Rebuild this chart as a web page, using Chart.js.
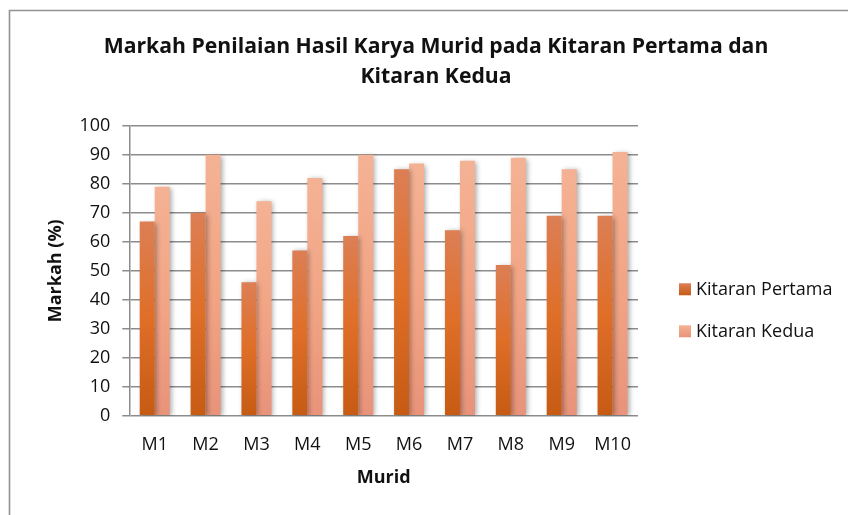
<!DOCTYPE html>
<html>
<head>
<meta charset="utf-8">
<script src="https://cdn.jsdelivr.net/npm/chart.js@4/dist/chart.umd.min.js"></script>
<style>
  html, body { margin: 0; padding: 0; background: #ffffff; }
  #wrap { width: 848px; height: 515px; position: relative; }
</style>
</head>
<body>
<div id="wrap"><canvas id="chart" width="848" height="515"></canvas></div>
<script>
// Students and their scores for the two rounds
const categories = ['M1', 'M2', 'M3', 'M4', 'M5', 'M6', 'M7', 'M8', 'M9', 'M10'];
const kitaranPertama = [67, 70, 46, 57, 62, 85, 64, 52, 69, 69];
const kitaranKedua = [79, 90, 74, 82, 90, 87, 88, 89, 85, 91];
const seriesNames = ['Kitaran Pertama', 'Kitaran Kedua'];

const FONT = '"Open Sans", "Noto Sans", sans-serif';

// Colour stops (top, middle, bottom) for each series' bar gradient
const pertamaStops = ['#DC7F55', '#DF6E27', '#C65B14'];
const keduaStops = ['#F4B294', '#F2A585', '#E8937A'];
const seriesStops = [pertamaStops, keduaStops];

// Vertical gradient running from the bar's top to the zero line
function barGradient(stops) {
  return (ctx) => {
    const chart = ctx.chart;
    const y = chart.scales && chart.scales.y;
    if (!y || ctx.type !== 'data') return stops[1];
    const top = y.getPixelForValue(ctx.raw);
    const bottom = y.getPixelForValue(0);
    if (!isFinite(top) || !isFinite(bottom) || top === bottom) return stops[1];
    const g = chart.ctx.createLinearGradient(0, top, 0, bottom);
    g.addColorStop(0, stops[0]);
    g.addColorStop(0.5, stops[1]);
    g.addColorStop(1, stops[2]);
    return g;
  };
}

// Thin frame along the top and left edges
const framePlugin = {
  id: 'frame',
  beforeDraw(chart) {
    const c = chart.ctx;
    c.save();
    c.strokeStyle = '#939393';
    c.lineWidth = 1.6;
    c.beginPath();
    c.moveTo(9.5, chart.height);
    c.lineTo(9.5, 10.5);
    c.lineTo(chart.width, 10.5);
    c.stroke();
    c.restore();
  }
};

// Soft drop shadow behind the bars
const barShadowPlugin = {
  id: 'barShadow',
  beforeDatasetsDraw(chart) {
    const c = chart.ctx;
    c.save();
    c.shadowColor = 'rgba(0,0,0,0.35)';
    c.shadowBlur = 5;
    c.shadowOffsetX = 2;
    c.shadowOffsetY = 1;
  },
  afterDatasetsDraw(chart) {
    chart.ctx.restore();
  }
};

// Legend column on the right, registered as a layout box so it takes its own space
const sideLegendPlugin = {
  id: 'sideLegend',
  beforeInit(chart) {
    const box = {
      position: 'right',
      weight: 0,
      fullSize: false,
      options: {},
      left: 0, top: 0, right: 0, bottom: 0, width: 0, height: 0,
      isHorizontal() { return false; },
      update(maxWidth, maxHeight) {
        this.width = 210;
        this.height = maxHeight;
      },
      draw() {
        const c = chart.ctx;
        const x = this.left + 41;
        const mid = (this.top + this.bottom) / 2;
        const rows = [mid + 18.5, mid + 60.5];
        c.save();
        c.font = '18px ' + FONT;
        c.textBaseline = 'middle';
        c.textAlign = 'left';
        chart.data.datasets.forEach((ds, i) => {
          const cy = rows[i];
          const stops = seriesStops[i];
          const g = c.createLinearGradient(0, cy - 6, 0, cy + 6);
          g.addColorStop(0, stops[0]);
          g.addColorStop(1, stops[2]);
          c.fillStyle = g;
          c.fillRect(x, cy - 6, 12, 12);
          c.fillStyle = '#111111';
          c.fillText(ds.label, x + 17, cy + 1);
        });
        c.restore();
      }
    };
    Chart.layouts.addBox(chart, box);
  }
};

new Chart(document.getElementById('chart'), {
  type: 'bar',
  data: {
    labels: categories,
    datasets: [
      {
        label: seriesNames[0],
        data: kitaranPertama,
        backgroundColor: barGradient(pertamaStops),
        borderWidth: 0
      },
      {
        label: seriesNames[1],
        data: kitaranKedua,
        backgroundColor: barGradient(keduaStops),
        borderWidth: 0
      }
    ]
  },
  options: {
    responsive: false,
    animation: false,
    events: [],
    datasets: {
      bar: { categoryPercentage: 0.59, barPercentage: 1.0 }
    },
    layout: { padding: { left: 24, right: 0, top: 0, bottom: 26 } },
    plugins: {
      legend: { display: false },
      tooltip: { enabled: false },
      title: {
        display: true,
        text: ['Markah Penilaian Hasil Karya Murid pada Kitaran Pertama dan', 'Kitaran Kedua'],
        color: '#111111',
        font: { family: FONT, size: 21.2, weight: 'bold', lineHeight: 1.4 },
        padding: { top: 32, bottom: 34.5 }
      }
    },
    scales: {
      x: {
        afterFit(scale) { scale.height = 73.3; },
        grid: { display: false, drawTicks: false },
        border: { display: false },
        ticks: { color: '#111111', font: { family: FONT, size: 18 }, padding: 18 },
        title: {
          display: true,
          text: 'Murid',
          color: '#111111',
          font: { family: FONT, size: 18, weight: 'bold' },
          padding: { top: 0, bottom: 0 }
        }
      },
      y: {
        afterFit(scale) { scale.width = 105.3; },
        min: 0,
        max: 100,
        ticks: { stepSize: 10, color: '#111111', font: { family: FONT, size: 18 }, padding: 12 },
        grid: { color: '#8c8c8c', lineWidth: 1.5, tickLength: 7, drawTicks: true },
        border: { display: true, color: '#8c8c8c', width: 1.5 },
        title: {
          display: true,
          text: 'Markah (%)',
          color: '#111111',
          font: { family: FONT, size: 18, weight: 'bold' },
          padding: { top: 21, bottom: 12 }
        }
      }
    }
  },
  plugins: [framePlugin, barShadowPlugin, sideLegendPlugin]
});
</script>
</body>
</html>
